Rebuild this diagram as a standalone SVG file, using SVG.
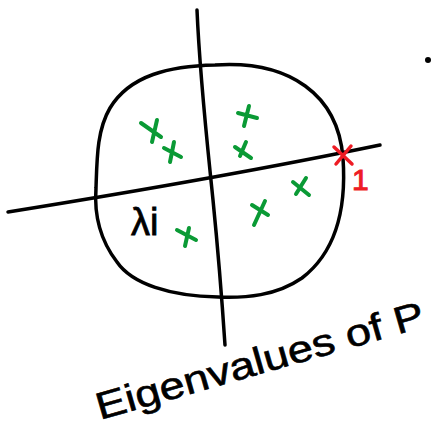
<svg xmlns="http://www.w3.org/2000/svg" width="432" height="428" viewBox="0 0 432 428">
<style>
.ink{fill:none;stroke:#000;stroke-width:3.5;stroke-linecap:round;stroke-linejoin:round}
.g{fill:none;stroke:#0a9a35;stroke-width:4;stroke-linecap:round}
.r{fill:none;stroke:#ee1c24;stroke-width:3.5;stroke-linecap:round}
.t{font-family:"Liberation Sans",Arial,sans-serif}
</style>
<rect width="432" height="428" fill="#fff"/>
<g id="circle">
<path class="ink" d="M215,65 C290,60 338,95 343,158 C347,215 332,255 302,278 C276,296 246,298 218,297 C170,296 132,284 117,262 C100,240 94,215 96,188 C97,158 97,130 110,108 C130,75 170,66 215,65 Z"/>
</g>
<g id="axes">
<path class="ink" d="M8,212 C120,194 250,172 380,145"/>
<path class="ink" d="M197,10 C200,80 208,150 213,200 C218,250 222,300 225,345"/>
</g>
<g id="eigs">
<path class="g" d="M141,123 L161,137 M152,142 L157,120"/>
<path class="g" d="M164,148 L181,157 M170,162 L174,142"/>
<path class="g" d="M238,113 L257,118 M244,126 L249,106"/>
<path class="g" d="M235,147 L251,158 M240,156 L246,142"/>
<path class="g" d="M293,182 L309,195 M296,194 L306,178"/>
<path class="g" d="M252,205 L268,215 M254,225 L265,201"/>
<path class="g" d="M177,230 L196,240 M185,246 L189,228"/>
<path class="r" d="M334,147 L352,164 M336,164 L351,146"/>
</g>
<g id="labels">
<text class="t" x="131" y="235" font-size="38" stroke="#000" stroke-width="0.8">λi</text>
<text class="t" x="352" y="190" font-size="30" fill="#ee1c24" stroke="#ee1c24" stroke-width="1">1</text>
<text class="t" x="100" y="420" font-size="38" textLength="340" lengthAdjust="spacingAndGlyphs" transform="rotate(-16 100 420)" stroke="#000" stroke-width="0.6">Eigenvalues of P</text>
<circle cx="428" cy="60" r="3" fill="#000"/>
</g>
</svg>
